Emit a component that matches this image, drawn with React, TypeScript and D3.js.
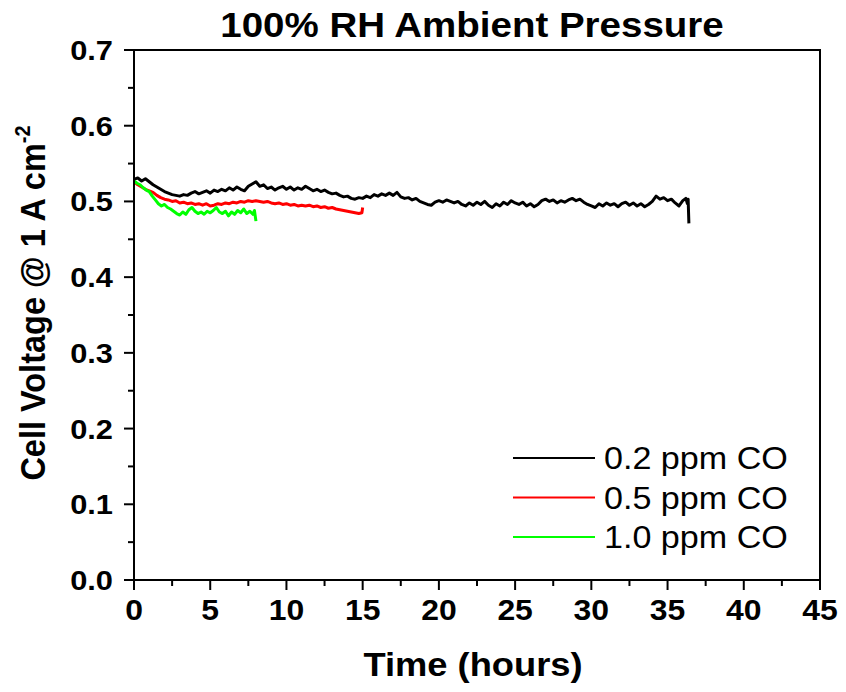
import React from "react";
import * as d3 from "d3";

const title = "100% RH Ambient Pressure";
const xTitle = "Time (hours)";
const yTitleMain = "Cell Voltage @ 1 A cm";
const yTitleSup = "-2";
const xTicks = [0, 5, 10, 15, 20, 25, 30, 35, 40, 45];
const yTicks = [0, 0.1, 0.2, 0.3, 0.4, 0.5, 0.6, 0.7];
const legendLabels = ["0.2 ppm CO", "0.5 ppm CO", "1.0 ppm CO"];
const seriesColors = ["#000000", "#ff0000", "#00ff00"];

const blackData: [number, number][] = [
  [0, 0.529], [0.25, 0.531], [0.5, 0.527], [0.75, 0.53], [1.0, 0.526], [1.25, 0.522], [1.5, 0.519], [1.75, 0.516],
  [2.0, 0.513], [2.25, 0.511], [2.5, 0.509], [2.75, 0.508], [3.0, 0.507], [3.25, 0.509], [3.5, 0.508], [3.75, 0.511],
  [4.0, 0.513], [4.25, 0.51], [4.5, 0.512], [4.75, 0.514], [5.0, 0.511], [5.25, 0.515], [5.5, 0.513], [5.75, 0.516],
  [6.0, 0.514], [6.25, 0.518], [6.5, 0.515], [6.75, 0.519], [7.0, 0.516], [7.25, 0.514], [7.5, 0.52], [7.75, 0.523],
  [8.0, 0.526], [8.25, 0.52], [8.5, 0.522], [8.75, 0.517], [9.0, 0.519], [9.25, 0.515], [9.5, 0.518], [9.75, 0.52],
  [10.0, 0.516], [10.25, 0.519], [10.5, 0.515], [10.75, 0.518], [11.0, 0.516], [11.25, 0.52], [11.5, 0.517], [11.75, 0.514],
  [12.0, 0.516], [12.25, 0.513], [12.5, 0.515], [12.75, 0.512], [13.0, 0.51], [13.25, 0.511], [13.5, 0.508], [13.75, 0.506],
  [14.0, 0.507], [14.25, 0.504], [14.5, 0.503], [14.75, 0.505], [15.0, 0.504], [15.25, 0.507], [15.5, 0.505], [15.75, 0.509],
  [16.0, 0.507], [16.25, 0.51], [16.5, 0.508], [16.75, 0.511], [17.0, 0.508], [17.25, 0.512], [17.5, 0.506], [17.75, 0.504],
  [18.0, 0.505], [18.25, 0.502], [18.5, 0.504], [18.75, 0.5], [19.0, 0.498], [19.25, 0.496], [19.5, 0.495], [19.75, 0.499],
  [20.0, 0.501], [20.25, 0.499], [20.5, 0.502], [20.75, 0.5], [21.0, 0.498], [21.25, 0.5], [21.5, 0.496], [21.75, 0.494],
  [22.0, 0.498], [22.25, 0.495], [22.5, 0.499], [22.75, 0.496], [23.0, 0.5], [23.25, 0.495], [23.5, 0.492], [23.75, 0.497],
  [24.0, 0.494], [24.25, 0.499], [24.5, 0.496], [24.75, 0.501], [25.0, 0.498], [25.25, 0.496], [25.5, 0.499], [25.75, 0.494],
  [26.0, 0.497], [26.25, 0.493], [26.5, 0.496], [26.75, 0.501], [27.0, 0.503], [27.25, 0.5], [27.5, 0.502], [27.75, 0.498],
  [28.0, 0.501], [28.25, 0.499], [28.5, 0.502], [28.75, 0.504], [29.0, 0.501], [29.25, 0.503], [29.5, 0.499], [29.75, 0.496],
  [30.0, 0.494], [30.25, 0.492], [30.5, 0.497], [30.75, 0.494], [31.0, 0.498], [31.25, 0.495], [31.5, 0.497], [31.75, 0.493],
  [32.0, 0.497], [32.25, 0.499], [32.5, 0.495], [32.75, 0.498], [33.0, 0.494], [33.25, 0.497], [33.5, 0.493], [33.75, 0.496],
  [34.0, 0.5], [34.25, 0.507], [34.5, 0.503], [34.75, 0.505], [35.0, 0.501], [35.25, 0.503], [35.5, 0.498], [35.75, 0.494],
  [36.0, 0.501], [36.2, 0.504], [36.3, 0.497], [36.35, 0.503], [36.4, 0.471],
];

const redData: [number, number][] = [
  [0, 0.526], [0.25, 0.522], [0.5, 0.519], [0.75, 0.516], [1.0, 0.514], [1.25, 0.512], [1.5, 0.508], [1.75, 0.505],
  [2.0, 0.503], [2.25, 0.502], [2.5, 0.5], [2.75, 0.501], [3.0, 0.498], [3.25, 0.499], [3.5, 0.497], [3.75, 0.498],
  [4.0, 0.496], [4.25, 0.497], [4.5, 0.495], [4.75, 0.497], [5.0, 0.494], [5.25, 0.495], [5.5, 0.497], [5.75, 0.496],
  [6.0, 0.498], [6.25, 0.497], [6.5, 0.499], [6.75, 0.498], [7.0, 0.5], [7.25, 0.499], [7.5, 0.501], [7.75, 0.5],
  [8.0, 0.501], [8.25, 0.5], [8.5, 0.499], [8.75, 0.5], [9.0, 0.498], [9.25, 0.497], [9.5, 0.498], [9.75, 0.496],
  [10.0, 0.497], [10.25, 0.495], [10.5, 0.496], [10.75, 0.494], [11.0, 0.495], [11.25, 0.494], [11.5, 0.495], [11.75, 0.493],
  [12.0, 0.494], [12.25, 0.492], [12.5, 0.493], [12.75, 0.491], [13.0, 0.492], [13.25, 0.49], [13.5, 0.489], [13.75, 0.488],
  [14.0, 0.487], [14.25, 0.486], [14.5, 0.485], [14.75, 0.484], [14.95, 0.485], [15.0, 0.492],
];

const greenData: [number, number][] = [
  [0, 0.527], [0.2, 0.524], [0.4, 0.522], [0.6, 0.518], [0.8, 0.515], [1.0, 0.513], [1.2, 0.507], [1.4, 0.502],
  [1.6, 0.497], [1.8, 0.494], [2.0, 0.496], [2.2, 0.492], [2.4, 0.49], [2.6, 0.487], [2.8, 0.484], [3.0, 0.482],
  [3.2, 0.486], [3.4, 0.483], [3.6, 0.489], [3.8, 0.492], [4.0, 0.487], [4.2, 0.484], [4.4, 0.486], [4.6, 0.483],
  [4.8, 0.487], [5.0, 0.485], [5.2, 0.488], [5.4, 0.492], [5.6, 0.486], [5.8, 0.484], [6.0, 0.487], [6.2, 0.481],
  [6.4, 0.486], [6.6, 0.483], [6.8, 0.488], [7.0, 0.485], [7.2, 0.49], [7.4, 0.484], [7.6, 0.487], [7.8, 0.483],
  [7.9, 0.488], [8.0, 0.474],
];

const W = 846;
const H = 692;
const left = 134;
const right = 820;
const top = 50;
const bottom = 580;
const SX = 1.1;

function SText(props: {
  x: number;
  y: number;
  size: number;
  bold?: boolean;
  anchor?: "start" | "middle" | "end";
  children: React.ReactNode;
}) {
  return (
    <g transform={`translate(${props.x},${props.y}) scale(${SX},1)`}>
      <text
        x={0}
        y={0}
        fontSize={props.size}
        fontWeight={props.bold ? "bold" : "normal"}
        textAnchor={props.anchor || "start"}
      >
        {props.children}
      </text>
    </g>
  );
}

export default function App() {
  const x = d3.scaleLinear().domain([0, 45]).range([left, right]);
  const y = d3.scaleLinear().domain([0, 0.7]).range([bottom, top]);
  const line = d3
    .line<[number, number]>()
    .x((d) => x(d[0]))
    .y((d) => y(d[1]));
  const xMinor = d3.range(2.5, 45, 5);
  const yMinor = d3.range(0.05, 0.7, 0.1);
  const series = [blackData, redData, greenData];
  const font = "'Liberation Sans', Arial, sans-serif";

  return (
    <svg
      width={W}
      height={H}
      style={{ position: "absolute", left: 0, top: 0, background: "#fff" }}
      fontFamily={font}
    >
      <rect x={0} y={0} width={W} height={H} fill="#fff" />
      {series.map((s, i) => (
        <path
          key={i}
          d={line(s) || ""}
          fill="none"
          stroke={seriesColors[i]}
          strokeWidth={3}
          strokeLinejoin="round"
        />
      ))}
      <rect
        x={left}
        y={top}
        width={right - left}
        height={bottom - top}
        fill="none"
        stroke="#000"
        strokeWidth={2}
      />
      {xTicks.map((t) => (
        <g key={"xt" + t}>
          <line x1={x(t)} x2={x(t)} y1={bottom} y2={bottom + 10} stroke="#000" strokeWidth={2} />
          <SText x={x(t)} y={bottom + 40} size={29} bold anchor="middle">
            {t}
          </SText>
        </g>
      ))}
      {xMinor.map((t) => (
        <line key={"xm" + t} x1={x(t)} x2={x(t)} y1={bottom} y2={bottom + 6} stroke="#000" strokeWidth={2} />
      ))}
      {yTicks.map((t) => (
        <g key={"yt" + t}>
          <line x1={left - 10} x2={left} y1={y(t)} y2={y(t)} stroke="#000" strokeWidth={2} />
          <SText x={left - 21} y={y(t) + 10} size={28} bold anchor="end">
            {t.toFixed(1)}
          </SText>
        </g>
      ))}
      {yMinor.map((t) => (
        <line key={"ym" + t} x1={left - 6} x2={left} y1={y(t)} y2={y(t)} stroke="#000" strokeWidth={2} />
      ))}
      <SText x={472} y={37} size={35} bold anchor="middle">
        {title}
      </SText>
      <SText x={473} y={676} size={33} bold anchor="middle">
        {xTitle}
      </SText>
      <g transform={`translate(45, 303) rotate(-90) scale(1,${SX})`}>
        <text x={0} y={0} textAnchor="middle" fontSize={32.5} fontWeight="bold">
          {yTitleMain}
          <tspan dy={-14} fontSize={20}>
            {yTitleSup}
          </tspan>
        </text>
      </g>
      {legendLabels.map((l, i) => (
        <g key={l}>
          <line
            x1={513}
            x2={595}
            y1={458 + i * 39.5}
            y2={458 + i * 39.5}
            stroke={seriesColors[i]}
            strokeWidth={2}
          />
          <SText x={604} y={458 + i * 39.5 + 11} size={31}>
            {l}
          </SText>
        </g>
      ))}
    </svg>
  );
}
